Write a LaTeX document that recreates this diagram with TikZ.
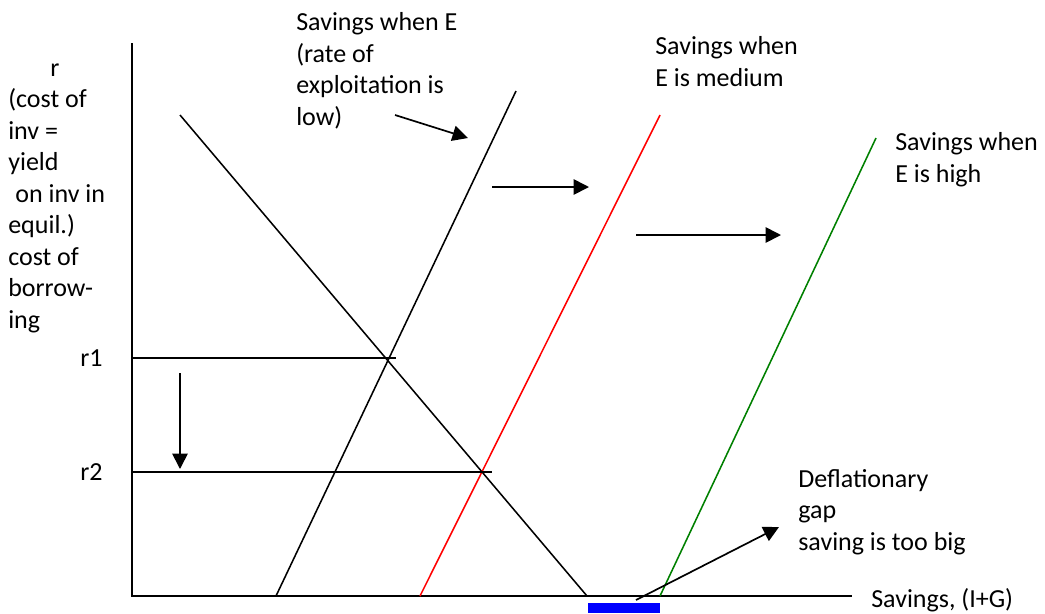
\documentclass[tikz,border=0pt]{standalone}
\usepackage{fontspec}
\setmainfont{Carlito}
\usetikzlibrary{arrows.meta}
\begin{document}
\begin{tikzpicture}[
			x=0.025cm, y=-0.025cm,
			axis/.style={line width=1.3pt, black},
			sline/.style={line width=1.1pt},
			myarrow/.style={-{Triangle[length=11pt, width=11pt]}, line width=1.2pt, black},
			lbl/.style={anchor=base west, inner sep=0pt, align=left, font=\fontsize{18.5}{22.4}\selectfont}
			]
			\useasboundingbox (0,0) rectangle (1045,613);
			% axes
			\coordinate (origin) at (132,596);
			\coordinate (ytop) at (132,43);
			\coordinate (xend) at (852,596);
			\draw[axis] (ytop) -- (origin) -- (xend);
			% investment line and savings lines
			\coordinate (invtop) at (180,115);
			\coordinate (invbot) at (587,596);
			\coordinate (lowbot) at (276,596);
			\coordinate (lowtop) at (516,91);
			\coordinate (medbot) at (420,596);
			\coordinate (medtop) at (660,115);
			\coordinate (highbot) at (660,596);
			\coordinate (hightop) at (876,138);
			\draw[sline] (invtop) -- (invbot);
			\draw[sline] (lowbot) -- (lowtop);
			\draw[sline, red] (medbot) -- (medtop);
			\draw[sline, green!50!black] (highbot) -- (hightop);
			% interest levels
			\coordinate (r1a) at (132,358);
			\coordinate (r1b) at (396,358);
			\coordinate (r2a) at (132,472);
			\coordinate (r2b) at (492,472);
			\draw[sline] (r1a) -- (r1b);
			\draw[sline] (r2a) -- (r2b);
			\node[lbl] (r1) at (80,366) {r1};
			\node[lbl] (r2) at (80,480) {r2};
			% shifts
			\coordinate (d1) at (180,373);
			\coordinate (d2) at (180,469);
			\draw[myarrow] (d1) -- (d2);
			\coordinate (a1) at (395,115);
			\coordinate (a2) at (468,138);
			\draw[myarrow] (a1) -- (a2);
			\coordinate (b1) at (492,187);
			\coordinate (b2) at (589,187);
			\draw[myarrow] (b1) -- (b2);
			\coordinate (c1) at (636,235);
			\coordinate (c2) at (781,235);
			\draw[myarrow] (c1) -- (c2);
			\coordinate (g1) at (636,600);
			\coordinate (g2) at (779,527);
			\draw[myarrow] (g1) -- (g2);
			% gap
			\fill[blue] (588,603) rectangle (660,613);
			% labels (anchored at last line)
			\node[lbl] (ylab) at (8,328) {\hspace*{30pt}r\\(cost of\\inv =\\yield\\\hspace*{5pt}on inv in\\equil.)\\cost of\\borrow-\\ing};
			\node[lbl] (low) at (296,125) {Savings when E\\(rate of\\exploitation is\\low)};
			\node[lbl] (med) at (655,86) {Savings when\\E is medium};
			\node[lbl] (high) at (895,182) {Savings when\\E is high};
			\node[lbl] (gap) at (798,550) {Deflationary\\gap\\saving is too big};
			\node[lbl] (xlab) at (871,607) {Savings, (I+G)};
		\end{tikzpicture}
\end{document}
